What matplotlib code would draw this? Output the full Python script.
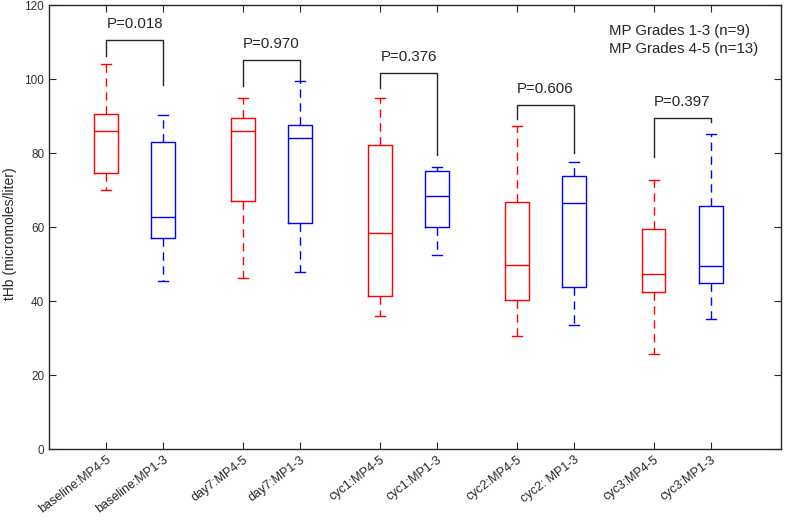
import matplotlib
matplotlib.use("Agg")
import matplotlib.pyplot as plt
import matplotlib.transforms as mtransforms

plt.rcParams['font.family'] = ['Liberation Sans', 'DejaVu Sans']

labels = ['baseline:MP4-5', 'baseline:MP1-3', 'day7:MP4-5', 'day7:MP1-3',
          'cyc1:MP4-5', 'cyc1:MP1-3', 'cyc2:MP4-5', 'cyc2: MP1-3',
          'cyc3:MP4-5', 'cyc3:MP1-3']
positions = [1, 2, 3.4, 4.4, 5.8, 6.8, 8.2, 9.2, 10.6, 11.6]

whishi = [104.0, 90.4, 94.9, 99.5, 94.8, 76.3, 87.3, 77.7, 72.8, 85.2]
q3     = [90.6, 82.9, 89.5, 87.7, 82.2, 75.1, 66.8, 73.9, 59.5, 65.6]
med    = [86.0, 62.8, 85.9, 84.0, 58.5, 68.5, 49.8, 66.4, 47.3, 49.4]
q1     = [74.7, 57.1, 66.9, 61.0, 41.4, 60.1, 40.3, 43.7, 42.5, 45.0]
whislo = [70.1, 45.5, 46.2, 47.9, 35.9, 52.3, 30.5, 33.4, 25.7, 35.2]

p_labels = ['P=0.018', 'P=0.970', 'P=0.376', 'P=0.606', 'P=0.397']
bracket_top = [110.5, 105.1, 101.7, 92.9, 89.4]
bracket_left_end = [106.2, 98.1, 97.5, 89.1, 78.8]
bracket_right_end = [98.4, 99.7, 79.5, 80.1, 88.5]

legend_texts = ['MP Grades 1-3 (n=9)', 'MP Grades 4-5 (n=13)']

fig = plt.figure(figsize=(7.87, 5.22), dpi=100)
ax = fig.add_axes([49/787, 1 - 449/522, 732/787, 444/522])

dark = '#262626'
colors = ['#ff0000' if i % 2 == 0 else '#0000ff' for i in range(len(positions))]

for i, pos in enumerate(positions):
    stats = [dict(med=med[i], q1=q1[i], q3=q3[i], whislo=whislo[i], whishi=whishi[i], fliers=[])]
    c = colors[i]
    ax.bxp(stats, positions=[pos], widths=0.41, capwidths=0.18, showfliers=False,
           boxprops=dict(color=c, linewidth=1.0),
           medianprops=dict(color=c, linewidth=1.0),
           whiskerprops=dict(color=c, linewidth=1.0, linestyle=(0, (6, 4))),
           capprops=dict(color=c, linewidth=1.0),
           manage_ticks=False)

# p-value brackets
for k in range(len(p_labels)):
    xl = positions[2 * k]
    xr = positions[2 * k + 1]
    ax.plot([xl, xl, xr, xr],
            [bracket_left_end[k], bracket_top[k], bracket_top[k], bracket_right_end[k]],
            color=dark, linewidth=1.0)
    ax.text((xl + xr) / 2, bracket_top[k] + 4.3, p_labels[k], ha='center', va='center',
            fontsize=10.8, color=dark)

ax.text(0.765, 0.942, legend_texts[0], transform=ax.transAxes, ha='left', va='center',
        fontsize=10.8, color=dark)
ax.text(0.765, 0.902, legend_texts[1], transform=ax.transAxes, ha='left', va='center',
        fontsize=10.8, color=dark)

ax.set_xlim(0, 12.83)
ax.set_ylim(0, 120)
ax.set_yticks([0, 20, 40, 60, 80, 100, 120])
ax.set_xticks(positions)
ax.set_xticklabels(labels, rotation=37, ha='right', va='top', rotation_mode='anchor',
                   fontsize=9, color=dark)
offset = mtransforms.ScaledTranslation(6/100, -12/100, fig.dpi_scale_trans)
for lab in ax.get_xticklabels():
    lab.set_transform(lab.get_transform() + offset)
ax.tick_params(axis='both', direction='in', length=5, width=0.8, color=dark,
               top=True, right=True, labelsize=9, labelcolor=dark)
ax.tick_params(axis='y', labelsize=8.5, labelcolor='#333333')
for s in ax.spines.values():
    s.set_color(dark)
    s.set_linewidth(1.0)

ax.set_ylabel('tHb (micromoles/liter)', fontsize=10, color=dark)
ax.yaxis.set_label_coords(-0.044, 0.484)

fig.savefig('out.png', dpi=100)
